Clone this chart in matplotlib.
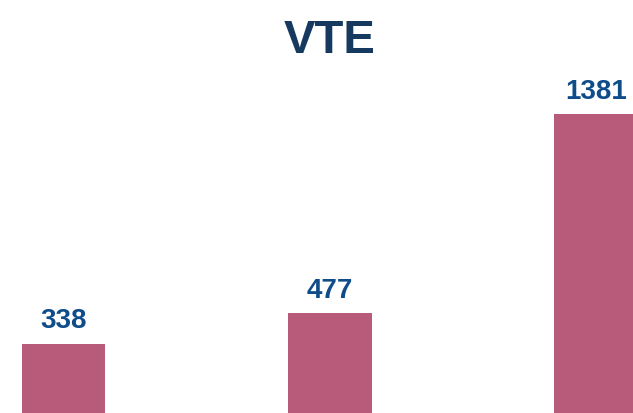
import matplotlib
matplotlib.use("Agg")
import matplotlib.pyplot as plt

categories = ["A", "B", "C"]
values = [338, 477, 1381]
title = "VTE"

bar_color = "#B85B7A"
label_color = "#0E4C8A"
title_color = "#163A5F"

plt.rcParams['font.family'] = ['Liberation Sans', 'DejaVu Sans']

fig = plt.figure(figsize=(6.33, 4.13), dpi=100)
ax = fig.add_axes([0, 0, 1, 1])
x = list(range(len(categories)))
bars = ax.bar(x, values, width=0.314, color=bar_color)
ax.set_xlim(-0.2387, 2.1380)
ax.set_ylim(23.2, 1898.7)
ax.axis('off')

for xi, v in zip(x, values):
    ax.annotate(str(v), (xi, v), xytext=(0, 11.1), textcoords='offset points',
                ha='center', va='baseline', fontsize=20, fontweight='bold',
                color=label_color)

fig.text(330 / 633, (413 - 53) / 413, title, ha='center', va='baseline',
         fontsize=34, fontweight='bold', color=title_color)

fig.savefig("out.png", dpi=100)
